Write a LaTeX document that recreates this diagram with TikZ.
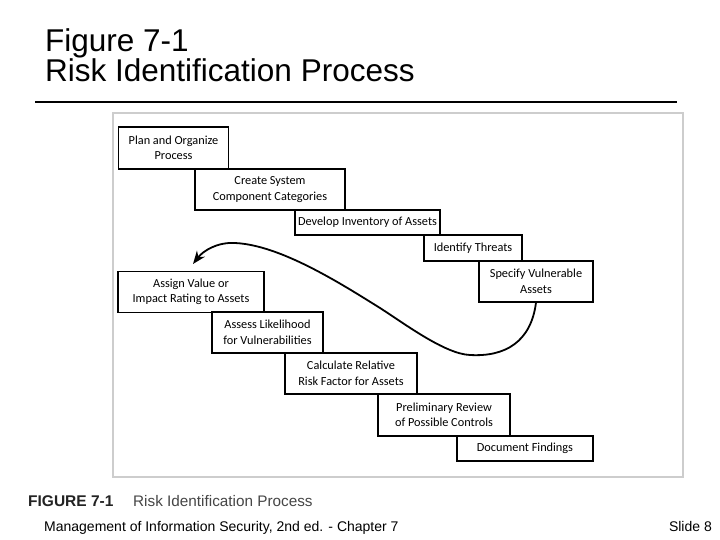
\documentclass[tikz,border=0pt]{standalone}
\usepackage{fontspec}
\setmainfont{Liberation Sans}
\newfontfamily\boxfont{Carlito}
\usetikzlibrary{arrows.meta}
\definecolor{framegray}{RGB}{205,205,205}
\definecolor{capdark}{RGB}{35,35,35}
\definecolor{capgray}{RGB}{70,70,70}
\tikzset{
  stepbox/.style={draw=black, fill=white, line width=1.2pt, inner sep=0pt, align=center,
    font=\boxfont\fontsize{12.3}{15.5}\selectfont},
  titletext/.style={anchor=base west, inner sep=0pt, font=\fontsize{31.5}{33}\selectfont},
  foottext/.style={inner sep=0pt, font=\fontsize{14}{16}\selectfont}
}
\begin{document}
\begin{tikzpicture}[x=1pt,y=-1pt]
\useasboundingbox (0,0) rectangle (720,540);
\fill[white] (0,0) rectangle (720,540);

% title
\node[titletext] (t1) at (45,52) {Figure 7-1};
\node[titletext] (t2) at (45,82) {Risk Identification Process};
\draw[line width=2pt] (35,102) -- (677,102);

% figure frame
\draw[framegray, line width=1.5pt] (113,113) rectangle (683,477);

% process boxes
\node[stepbox, minimum width=110pt, minimum height=42pt] (plan) at (173.5,148) {Plan and Organize\\Process};
\node[stepbox, minimum width=150pt, minimum height=41pt] (create) at (270,189.5) {Create System\\Component Categories};
\node[stepbox, minimum width=145pt, minimum height=25pt] (develop) at (367.5,222.5) {Develop Inventory of Assets};
\node[stepbox, minimum width=98pt, minimum height=26pt] (identify) at (473,248) {Identify Threats};
\node[stepbox, minimum width=114pt, minimum height=41pt] (specify) at (536,281.5) {Specify Vulnerable\\Assets};
\node[stepbox, minimum width=146pt, minimum height=41pt] (assign) at (191,292) {Assign Value or\\Impact Rating to Assets};
\node[stepbox, minimum width=111pt, minimum height=41pt] (assess) at (267.5,332.5) {Assess Likelihood\\for Vulnerabilities};
\node[stepbox, minimum width=132pt, minimum height=41pt] (calc) at (351,373.5) {Calculate Relative\\Risk Factor for Assets};
\node[stepbox, minimum width=132pt, minimum height=42pt] (prelim) at (444,415) {Preliminary Review\\of Possible Controls};
\node[stepbox, minimum width=136pt, minimum height=25pt] (doc) at (525,448.5) {Document Findings};

% curved arrow
\coordinate (tip) at (193,264);
\draw[line width=1.8pt, -{Stealth[length=13pt,width=10pt]}]
  (specify.south) .. controls (531,342) and (505,357) .. (470,355)
  .. controls (445,354) and (405,324) .. (380,308)
  .. controls (340,283) and (280,245) .. (235,243)
  .. controls (217,242) and (203,251) .. (tip);

% caption
\node[anchor=base west, inner sep=0pt, text=capdark, font=\bfseries\fontsize{15.5}{17}\selectfont] (fig) at (28,506) {FIGURE 7-1};
\node[anchor=base west, inner sep=0pt, text=capgray, font=\fontsize{15.3}{17}\selectfont] (cap) at (133,506) {Risk Identification Process};

% footer
\node[foottext, anchor=base west] (foot) at (44,531) {Management of Information Security, 2nd ed. - Chapter 7};
\node[foottext, anchor=base east] (slide) at (712,531) {Slide 8};
\end{tikzpicture}
\end{document}
